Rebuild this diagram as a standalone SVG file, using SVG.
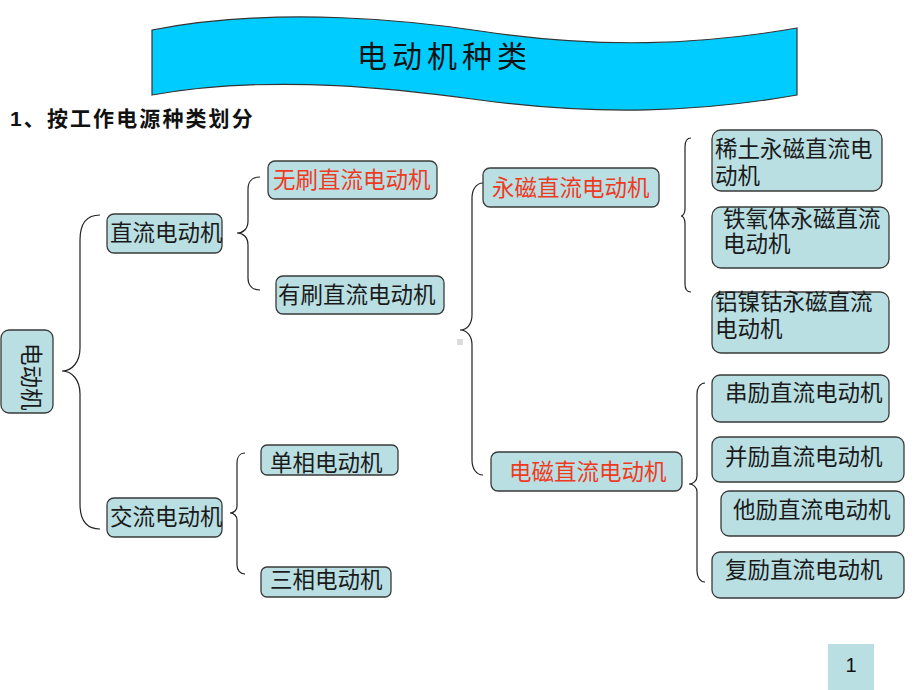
<svg xmlns="http://www.w3.org/2000/svg" width="920" height="690" viewBox="0 0 920 690">
<style>
.box{fill:#B9DFE3;stroke:#3a3a3a;stroke-width:1.3}
.t{font-family:"Noto Sans CJK SC","Liberation Sans",sans-serif;font-size:22.5px;fill:#1a1a1a}
.r{fill:#EE3A1F}
.br{fill:none;stroke:#222;stroke-width:1.2}
</style>
<rect width="920" height="690" fill="#fff"/>
<g id="banner">
<path d="M152,30 C280,5 420,22 480,31 C600,49 700,45 797,28 L797,95 C700,112 600,116 480,100 C420,92 280,72 152,95 Z" fill="#00CCFF" stroke="#333" stroke-width="1.2"/>
<text x="357" y="67" style="font-family:'Noto Sans CJK SC',sans-serif;font-size:30px;letter-spacing:5px;fill:#111">电动机种类</text>
</g>
<text id="subtitle" x="10" y="126" style="font-family:'Liberation Sans','Noto Sans CJK SC',sans-serif;font-size:21px;font-weight:bold;letter-spacing:2.1px;fill:#111">1、按工作电源种类划分</text>
<g id="connectors">
<path class="br" d="M100,215 C86,215 80,225 80,240 L80,348 C80,362 72,371 62,371 C72,371 80,380 80,394 L80,504 C80,519 86,529 100,529"/>
<path class="br" d="M260,177 C252,177 248,182 248,189 L248,221 C248,229 243,233 237,233 C243,233 248,237 248,245 L248,278 C248,285 252,290 260,290"/>
<path class="br" d="M483,183 C476,183 472,190 472,198 L472,315 C472,324 467,330 460,330 C467,330 472,336 472,345 L472,460 C472,468 476,475 483,475"/>
<path class="br" d="M691,138 C687,138 685,142 685,147 L685,209 C685,213 683,216 681,216 C683,216 685,219 685,223 L685,284 C685,289 687,292 691,292"/>
<path class="br" d="M705,383 C700,383 697,388 697,394 L697,476 C697,481 693,484 689,484 C693,484 697,487 697,492 L697,571 C697,577 700,582 705,582"/>
<path class="br" d="M245,453 C240,453 237,457 237,463 L237,506 C237,510 234,513 230,513 C234,513 237,516 237,520 L237,565 C237,570 240,574 245,574"/>
</g>
<rect x="457" y="339" width="6" height="6" fill="#dcdcdc"/>
<g id="n_root"><rect class="box" x="1" y="330" width="52" height="83" rx="8"/><text class="t" transform="translate(23,343) rotate(90)">电动机</text></g>
<g id="n_dc"><rect class="box" x="107" y="214" width="115" height="39" rx="7"/><text class="t" x="110" y="241">直流电动机</text></g>
<g id="n_ac"><rect class="box" x="107" y="498" width="115" height="39" rx="7"/><text class="t" x="110" y="525">交流电动机</text></g>
<g id="n_brushless"><rect class="box" x="268" y="161" width="169" height="38" rx="7"/><text class="t r" x="273" y="188">无刷直流电动机</text></g>
<g id="n_brushed"><rect class="box" x="276" y="276" width="168" height="38" rx="7"/><text class="t" x="278" y="303">有刷直流电动机</text></g>
<g id="n_pm"><rect class="box" x="483" y="168" width="176" height="39" rx="7"/><text class="t r" x="492" y="196">永磁直流电动机</text></g>
<g id="n_em"><rect class="box" x="491" y="452" width="191" height="39" rx="7"/><text class="t r" x="509" y="480">电磁直流电动机</text></g>
<g id="n_re"><rect class="box" x="712" y="130" width="170" height="61" rx="9"/><text class="t"><tspan x="715" y="157">稀土永磁直流电</tspan><tspan x="715" y="184">动机</tspan></text></g>
<g id="n_ferrite"><rect class="box" x="712" y="207" width="177" height="61" rx="9"/><text class="t"><tspan x="723" y="227">铁氧体永磁直流</tspan><tspan x="723" y="252">电动机</tspan></text></g>
<g id="n_alnico"><rect class="box" x="712" y="292" width="177" height="61" rx="9"/><text class="t"><tspan x="715" y="310">铝镍钴永磁直流</tspan><tspan x="715" y="337">电动机</tspan></text></g>
<g id="n_series"><rect class="box" x="712" y="375" width="177" height="47" rx="8"/><text class="t" x="725" y="401">串励直流电动机</text></g>
<g id="n_shunt"><rect class="box" x="712" y="437" width="192" height="45" rx="8"/><text class="t" x="725" y="465">并励直流电动机</text></g>
<g id="n_sep"><rect class="box" x="721" y="491" width="183" height="45" rx="8"/><text class="t" x="733" y="518">他励直流电动机</text></g>
<g id="n_comp"><rect class="box" x="712" y="552" width="192" height="46" rx="8"/><text class="t" x="725" y="578">复励直流电动机</text></g>
<g id="n_single"><rect class="box" x="261" y="445" width="137" height="30" rx="6"/><text class="t" x="270" y="471">单相电动机</text></g>
<g id="n_three"><rect class="box" x="261" y="567" width="130" height="30" rx="6"/><text class="t" x="270" y="588">三相电动机</text></g>
<g id="page"><rect x="828" y="644" width="46" height="46" fill="#B9DFE3"/><text x="851" y="672" text-anchor="middle" style="font-family:'Liberation Sans',sans-serif;font-size:20px;fill:#111">1</text></g>
</svg>
